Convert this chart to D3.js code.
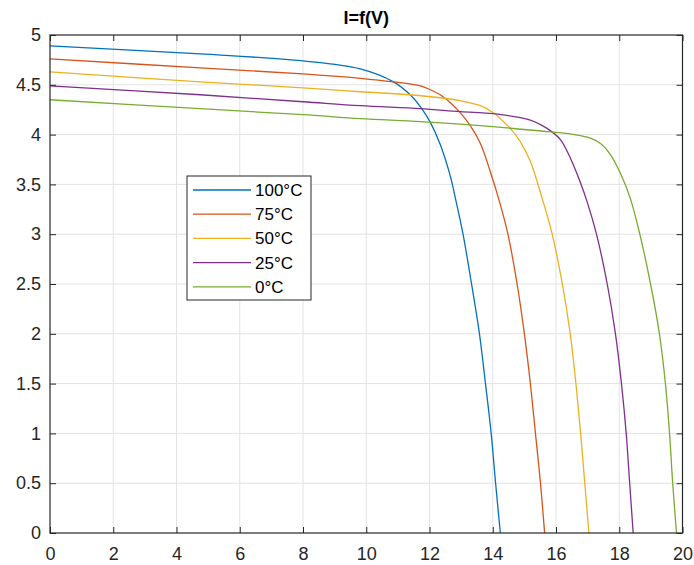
<!DOCTYPE html>
<html>
<head>
<meta charset="utf-8">
<script src="https://cdn.jsdelivr.net/npm/d3@7"></script>
<style>
body{margin:0;background:#fff;}
text{font-family:"Liberation Sans",Arial,sans-serif;}
</style>
</head>
<body>
<div id="chart"></div>
<script>
// I-V curves (V in volts, I in amps)
let v100 = [0, 4.75, 8.0, 9.81, 10.86, 11.39, 11.71, 12.03, 12.34, 12.66, 12.84, 13.06, 13.33, 13.58, 13.77, 13.95, 14.09, 14.24];
let i100 = [4.89, 4.81, 4.74, 4.66, 4.53, 4.40, 4.28, 4.12, 3.90, 3.58, 3.33, 3.0, 2.5, 2.0, 1.5, 1.0, 0.5, 0];
let v75 = [0, 4.75, 8.0, 9.81, 10.85, 11.71, 12.03, 12.34, 12.66, 12.97, 13.29, 13.61, 13.92, 14.22, 14.48, 14.77, 15.0, 15.19, 15.35, 15.51, 15.64];
let i75 = [4.76, 4.67, 4.61, 4.565, 4.53, 4.49, 4.45, 4.40, 4.32, 4.22, 4.09, 3.91, 3.63, 3.32, 3.0, 2.5, 2.0, 1.5, 1.0, 0.5, 0];
let v50 = [0, 4.75, 8.0, 9.81, 11.39, 12.34, 12.97, 13.61, 14.02, 14.24, 14.56, 14.87, 15.19, 15.58, 15.88, 16.2, 16.45, 16.63, 16.78, 16.91, 17.04];
let i50 = [4.63, 4.53, 4.47, 4.43, 4.40, 4.37, 4.34, 4.29, 4.22, 4.16, 4.06, 3.93, 3.73, 3.34, 3.0, 2.5, 2.0, 1.5, 1.0, 0.5, 0];
let v25 = [0, 4.75, 8.0, 9.81, 11.71, 12.97, 14.02, 14.87, 15.19, 15.51, 15.82, 16.14, 16.46, 16.77, 16.98, 17.28, 17.62, 17.88, 18.07, 18.22, 18.33, 18.44];
let i25 = [4.49, 4.40, 4.33, 4.29, 4.26, 4.23, 4.21, 4.17, 4.145, 4.10, 4.04, 3.95, 3.76, 3.52, 3.33, 3.0, 2.5, 2.0, 1.5, 1.0, 0.5, 0];
let v0 = [0, 4.75, 8.0, 9.81, 11.71, 13.61, 15.73, 16.4, 16.77, 17.09, 17.41, 17.72, 18.04, 18.35, 18.65, 18.99, 19.27, 19.46, 19.59, 19.69, 19.81];
let i0 = [4.35, 4.26, 4.20, 4.16, 4.13, 4.09, 4.03, 4.01, 3.99, 3.965, 3.91, 3.80, 3.61, 3.36, 3.0, 2.5, 2.0, 1.5, 1.0, 0.5, 0];

let labels = ["100°C", "75°C", "50°C", "25°C", "0°C"];
let colors = ["#0072BD", "#D95319", "#EDB120", "#7E2F8E", "#77AC30"];
let xTicks = d3.range(0, 21, 2);
let yTicks = [0, 0.5, 1, 1.5, 2, 2.5, 3, 3.5, 4, 4.5, 5];

let series = [[v100, i100], [v75, i75], [v50, i50], [v25, i25], [v0, i0]].map((s, k) => ({
  name: labels[k], color: colors[k],
  pts: s[0].map((v, j) => [v, s[1][j]])
}));

let width = 694, height = 565;
let mLeft = 50, mRight = 682.5, mTop = 35, mBottom = 533;
let axisCol = "#262626";

let svg = d3.select("#chart").append("svg").attr("width", width).attr("height", height);
svg.append("rect").attr("width", width).attr("height", height).attr("fill", "#fff");

let scaleX = d3.scaleLinear().domain([0, 20]).range([mLeft, mRight]);
let scaleY = d3.scaleLinear().domain([0, 5]).range([mBottom, mTop]);

// grid
svg.append("g").selectAll("line").data(xTicks.slice(1, -1)).enter().append("line")
  .attr("x1", d => scaleX(d)).attr("x2", d => scaleX(d))
  .attr("y1", mTop).attr("y2", mBottom)
  .style("stroke", "#e3e3e3").style("stroke-width", 1);
svg.append("g").selectAll("line").data(yTicks.slice(1, -1)).enter().append("line")
  .attr("y1", d => scaleY(d)).attr("y2", d => scaleY(d))
  .attr("x1", mLeft).attr("x2", mRight)
  .style("stroke", "#e3e3e3").style("stroke-width", 1);

// curves
let line = d3.line().x(d => scaleX(d[0])).y(d => scaleY(d[1])).curve(d3.curveCatmullRom.alpha(0.5));
svg.append("g").selectAll("path").data(series).enter().append("path")
  .attr("d", d => line(d.pts))
  .attr("fill", "none")
  .style("stroke", d => d.color)
  .style("stroke-width", 1.3);

// axes, MATLAB style box with ticks inside
let axB = svg.append("g").attr("transform", "translate(0," + mBottom + ")")
  .call(d3.axisBottom(scaleX).tickValues(xTicks).tickSizeInner(-6).tickSizeOuter(0).tickPadding(14));
let axT = svg.append("g").attr("transform", "translate(0," + mTop + ")")
  .call(d3.axisTop(scaleX).tickValues(xTicks).tickSizeInner(-6).tickSizeOuter(0).tickFormat(""));
let axL = svg.append("g").attr("transform", "translate(" + mLeft + ",0)")
  .call(d3.axisLeft(scaleY).tickValues(yTicks).tickSizeInner(-6).tickSizeOuter(0).tickPadding(9).tickFormat(d3.format("")));
let axR = svg.append("g").attr("transform", "translate(" + mRight + ",0)")
  .call(d3.axisRight(scaleY).tickValues(yTicks).tickSizeInner(-6).tickSizeOuter(0).tickFormat(""));

[axB, axT, axL, axR].forEach(a => {
  a.select(".domain").remove();
  a.selectAll("line").style("stroke", axisCol);
  a.selectAll("text").style("fill", axisCol).style("font-size", "18px")
    .style("font-family", "'Liberation Sans', Arial, sans-serif");
});

svg.append("rect").attr("x", mLeft).attr("y", mTop)
  .attr("width", mRight - mLeft).attr("height", mBottom - mTop)
  .attr("fill", "none").style("stroke", axisCol).style("stroke-width", 1.2);

// title
svg.append("text").text("I=f(V)")
  .attr("x", (mLeft + mRight) / 2).attr("y", 24)
  .attr("text-anchor", "middle")
  .style("font-size", "18px").style("font-weight", "bold").style("fill", "#000");

// legend
let legend = svg.append("g").attr("transform", "translate(187,176)");
legend.append("rect").attr("x", 0).attr("y", 0).attr("width", 124).attr("height", 124)
  .attr("fill", "#fff").style("stroke", axisCol).style("stroke-width", 1);
series.forEach((s, k) => {
  let y = 14 + k * 24.2;
  legend.append("line").attr("x1", 6).attr("x2", 64).attr("y1", y).attr("y2", y)
    .style("stroke", s.color).style("stroke-width", 1.3);
  legend.append("text").text(s.name).attr("x", 68).attr("y", y + 6)
    .style("font-size", "17px").style("fill", "#000");
});
</script>
</body>
</html>
